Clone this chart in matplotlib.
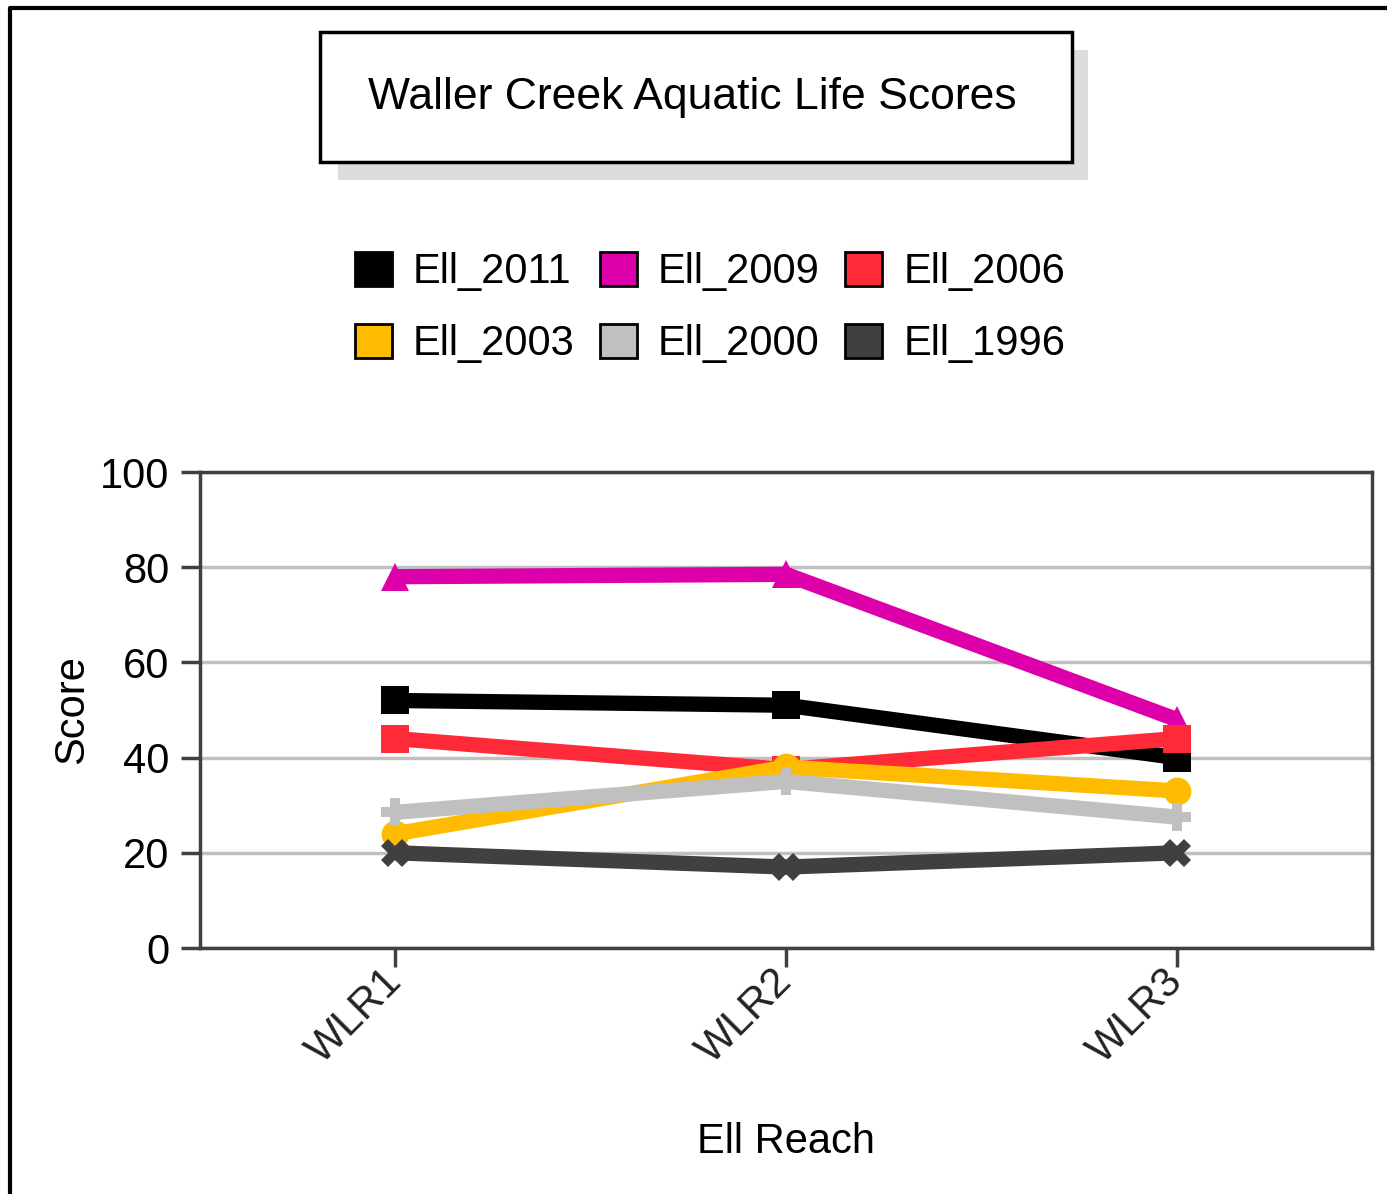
import matplotlib.pyplot as plt
from matplotlib.patches import Rectangle, Patch
from matplotlib.lines import Line2D

reaches = ["WLR1", "WLR2", "WLR3"]
series_names = ["Ell_2011", "Ell_2009", "Ell_2006", "Ell_2003", "Ell_2000", "Ell_1996"]
ell_2011 = [52, 51, 40]
ell_2009 = [78, 78.5, 48]
ell_2006 = [44, 37.5, 44]
ell_2003 = [24, 38, 33]
ell_2000 = [28.5, 35, 27.5]
ell_1996 = [20, 17, 20]
series_values = [ell_2011, ell_2009, ell_2006, ell_2003, ell_2000, ell_1996]
colors = ["#000000", "#dd00aa", "#ff2a38", "#ffbb00", "#c0c0c0", "#404040"]
markers = ["s", "^", "s", "o", "P", "X"]
y_ticks = [0, 20, 40, 60, 80, 100]

W, H = 1387, 1194
plt.rcParams['font.family'] = ['Liberation Sans Narrow', 'Liberation Sans', 'DejaVu Sans']
fontsize = 30

fig = plt.figure(figsize=(W / 100, H / 100), dpi=100)

def fx(px):
    return px / W

def fy(py):
    return 1 - py / H

# outer border (left and top only, the rest is cut off)
fig.add_artist(Line2D([fx(10), fx(10), 1.0], [0.0, fy(8), fy(8)], color="black", lw=3,
                      transform=fig.transFigure))

# title box with shadow
fig.add_artist(Rectangle((fx(338), fy(180)), fx(750), 130 / H, transform=fig.transFigure,
                         facecolor="#dddddd", edgecolor="none"))
fig.add_artist(Rectangle((fx(320), fy(162)), fx(752), 130 / H, transform=fig.transFigure,
                         facecolor="white", edgecolor="black", lw=2.5))
fig.text(fx(692), fy(98), "Waller Creek Aquatic Life Scores", ha="center", va="center",
         fontsize=32)

ax = fig.add_axes([fx(200), fy(948), fx(1172), 476 / H])
x = list(range(len(reaches)))
for i, (name, vals) in enumerate(zip(series_names, series_values)):
    ax.plot(x, vals, color=colors[i], marker=markers[i], lw=11, markersize=20,
            markeredgewidth=0, label=name, zorder=3 + i, solid_capstyle="butt")

ax.set_xlim(-0.5, 2.5)
ax.set_ylim(0, 100)
ax.set_yticks(y_ticks)
ax.set_yticklabels([str(t) for t in y_ticks], fontsize=fontsize)
ax.set_xticks(x)
ax.set_xticklabels(reaches, fontsize=fontsize, rotation=45, ha="right", va="center",
                   rotation_mode="anchor", color="#222222")
ax.grid(axis="y", color="#c0c0c0", lw=2.5)
ax.set_axisbelow(True)
for sp in ax.spines.values():
    sp.set_color("#404040")
    sp.set_linewidth(2.5)
ax.tick_params(axis="both", direction="out", length=14, width=2.5, color="#404040", pad=8)
ax.tick_params(axis="x", pad=6)
ax.set_ylabel("Score", fontsize=fontsize, labelpad=6)
ax.set_xlabel("Ell Reach", fontsize=fontsize, labelpad=36)

# legend filled row by row like the reference
order = [0, 3, 1, 4, 2, 5]
handles = [Patch(facecolor=colors[k], edgecolor="black", lw=2) for k in order]
labels = [series_names[k] for k in order]
fig.legend(handles, labels, loc="center", bbox_to_anchor=(fx(710), fy(308)), ncol=3,
           frameon=False, fontsize=fontsize, handlelength=0.9, handleheight=0.9,
           handletextpad=0.5, columnspacing=0.6, labelspacing=0.75)

plt.savefig("out.png", dpi=100)
